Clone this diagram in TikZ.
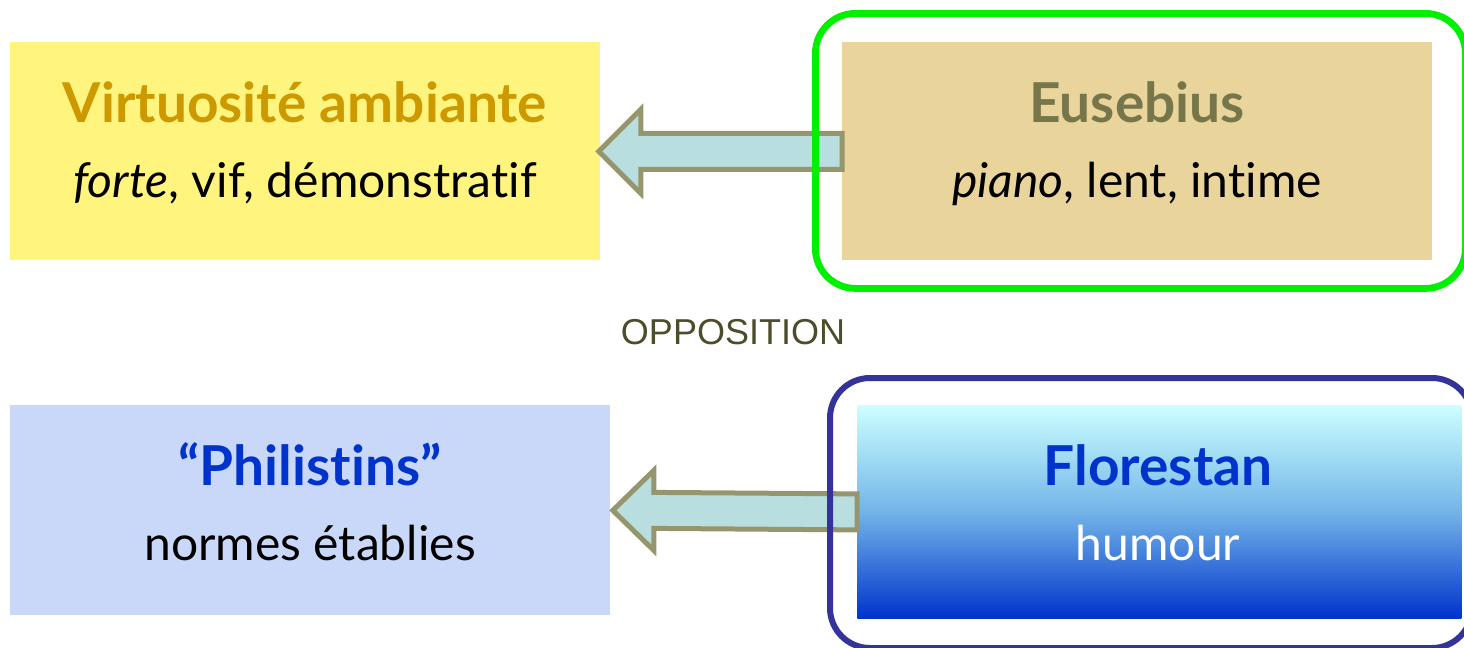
\documentclass[tikz,border=0pt]{standalone}
\usepackage{fontspec}
\setmainfont[Ligatures=NoCommon]{Lato}
\setsansfont{Liberation Sans}
\usetikzlibrary{calc}
\definecolor{goldtxt}{HTML}{CC9900}
\definecolor{olivetxt}{HTML}{76764A}
\definecolor{bluetxt}{HTML}{0033CC}
\definecolor{opptxt}{HTML}{4D4D2B}
\definecolor{greenframe}{HTML}{00F000}
\definecolor{navyframe}{HTML}{333399}
\definecolor{arrowfill}{HTML}{B8DEE0}
\definecolor{arrowline}{HTML}{96966E}
\definecolor{yellowfill}{HTML}{FFF47E}
\definecolor{tanfill}{HTML}{E9D59C}
\definecolor{lbluefill}{HTML}{C9D8F9}
\definecolor{gradtop}{HTML}{CCFFFF}
\definecolor{gradmid}{HTML}{72B4E8}
\definecolor{gradbot}{HTML}{0033CC}
\tikzset{
  box/.style={draw=none, rectangle, anchor=north west, inner sep=0pt},
  frame/.style={rectangle, anchor=north west, rounded corners=20pt, line width=3.4pt, inner sep=0pt},
  titletxt/.style={anchor=base, font=\fontsize{27.5}{32}\selectfont\bfseries, inner sep=0pt},
  subtxt/.style={anchor=base, font=\fontsize{24}{28}\selectfont, inner sep=0pt},
  blockarrow/.style={fill=arrowfill, draw=arrowline, line width=2.5pt, line join=miter}
}
\begin{document}
\begin{tikzpicture}[x=0.5pt,y=-0.5pt]
\useasboundingbox (0,0) rectangle (1464,648);
% boxes
\node[box, fill=yellowfill, minimum width=295pt, minimum height=109pt] (virt) at (10,42) {};
\node[box, fill=tanfill, minimum width=295pt, minimum height=109pt] (eus) at (842,42) {};
\node[box, fill=lbluefill, minimum width=300pt, minimum height=105pt] (phil) at (10,405) {};
\node[box, top color=gradtop, bottom color=gradbot, middle color=gradmid, minimum width=302pt, minimum height=106.5pt] (flor) at (857,405) {};
% texts
\node[titletxt, text=goldtxt] (virtT) at (305,122) {Virtuosité ambiante};
\node[subtxt] (virtS) at (305,197) {\textit{forte}, vif, démonstratif};
\node[titletxt, text=olivetxt] (eusT) at (1137,122) {Eusebius};
\node[subtxt] (eusS) at (1137,197) {\textit{piano}, lent, intime};
\node[titletxt, text=bluetxt] (philT) at (310,485) {“Philistins”};
\node[subtxt] (philS) at (310,560) {normes établies};
\node[titletxt, text=bluetxt] (florT) at (1158,485) {Florestan};
\node[subtxt, text=white] (florS) at (1158,560) {humour};
\node[anchor=center, text=opptxt, font=\sffamily\fontsize{18}{22}\selectfont] (opp) at (733,332) {OPPOSITION};
% block arrows
\draw[blockarrow]
  ($(eus.west)+(0,-18)$) -- ($(virt.east)+(40,-18)$) -- ($(virt.east)+(40,-42)$)
  -- ($(virt.east)+(-2,0)$) -- ($(virt.east)+(40,42)$) -- ($(virt.east)+(40,18)$)
  -- ($(eus.west)+(0,18)$) -- cycle;
\draw[blockarrow]
  ($(flor.west)+(0,-18)$) -- ($(phil.east)+(43,-18)$) -- ($(phil.east)+(43,-40)$)
  -- ($(phil.east)+(2,0)$) -- ($(phil.east)+(43,40)$) -- ($(phil.east)+(43,18)$)
  -- ($(flor.west)+(0,18)$) -- cycle;
% frames
\node[frame, draw=greenframe, minimum width=325pt, minimum height=137.5pt] (gframe) at (812,10) {};
\node[frame, draw=navyframe, line width=3pt, minimum width=321pt, minimum height=135pt] (bframe) at (827,375) {};
\end{tikzpicture}
\end{document}
